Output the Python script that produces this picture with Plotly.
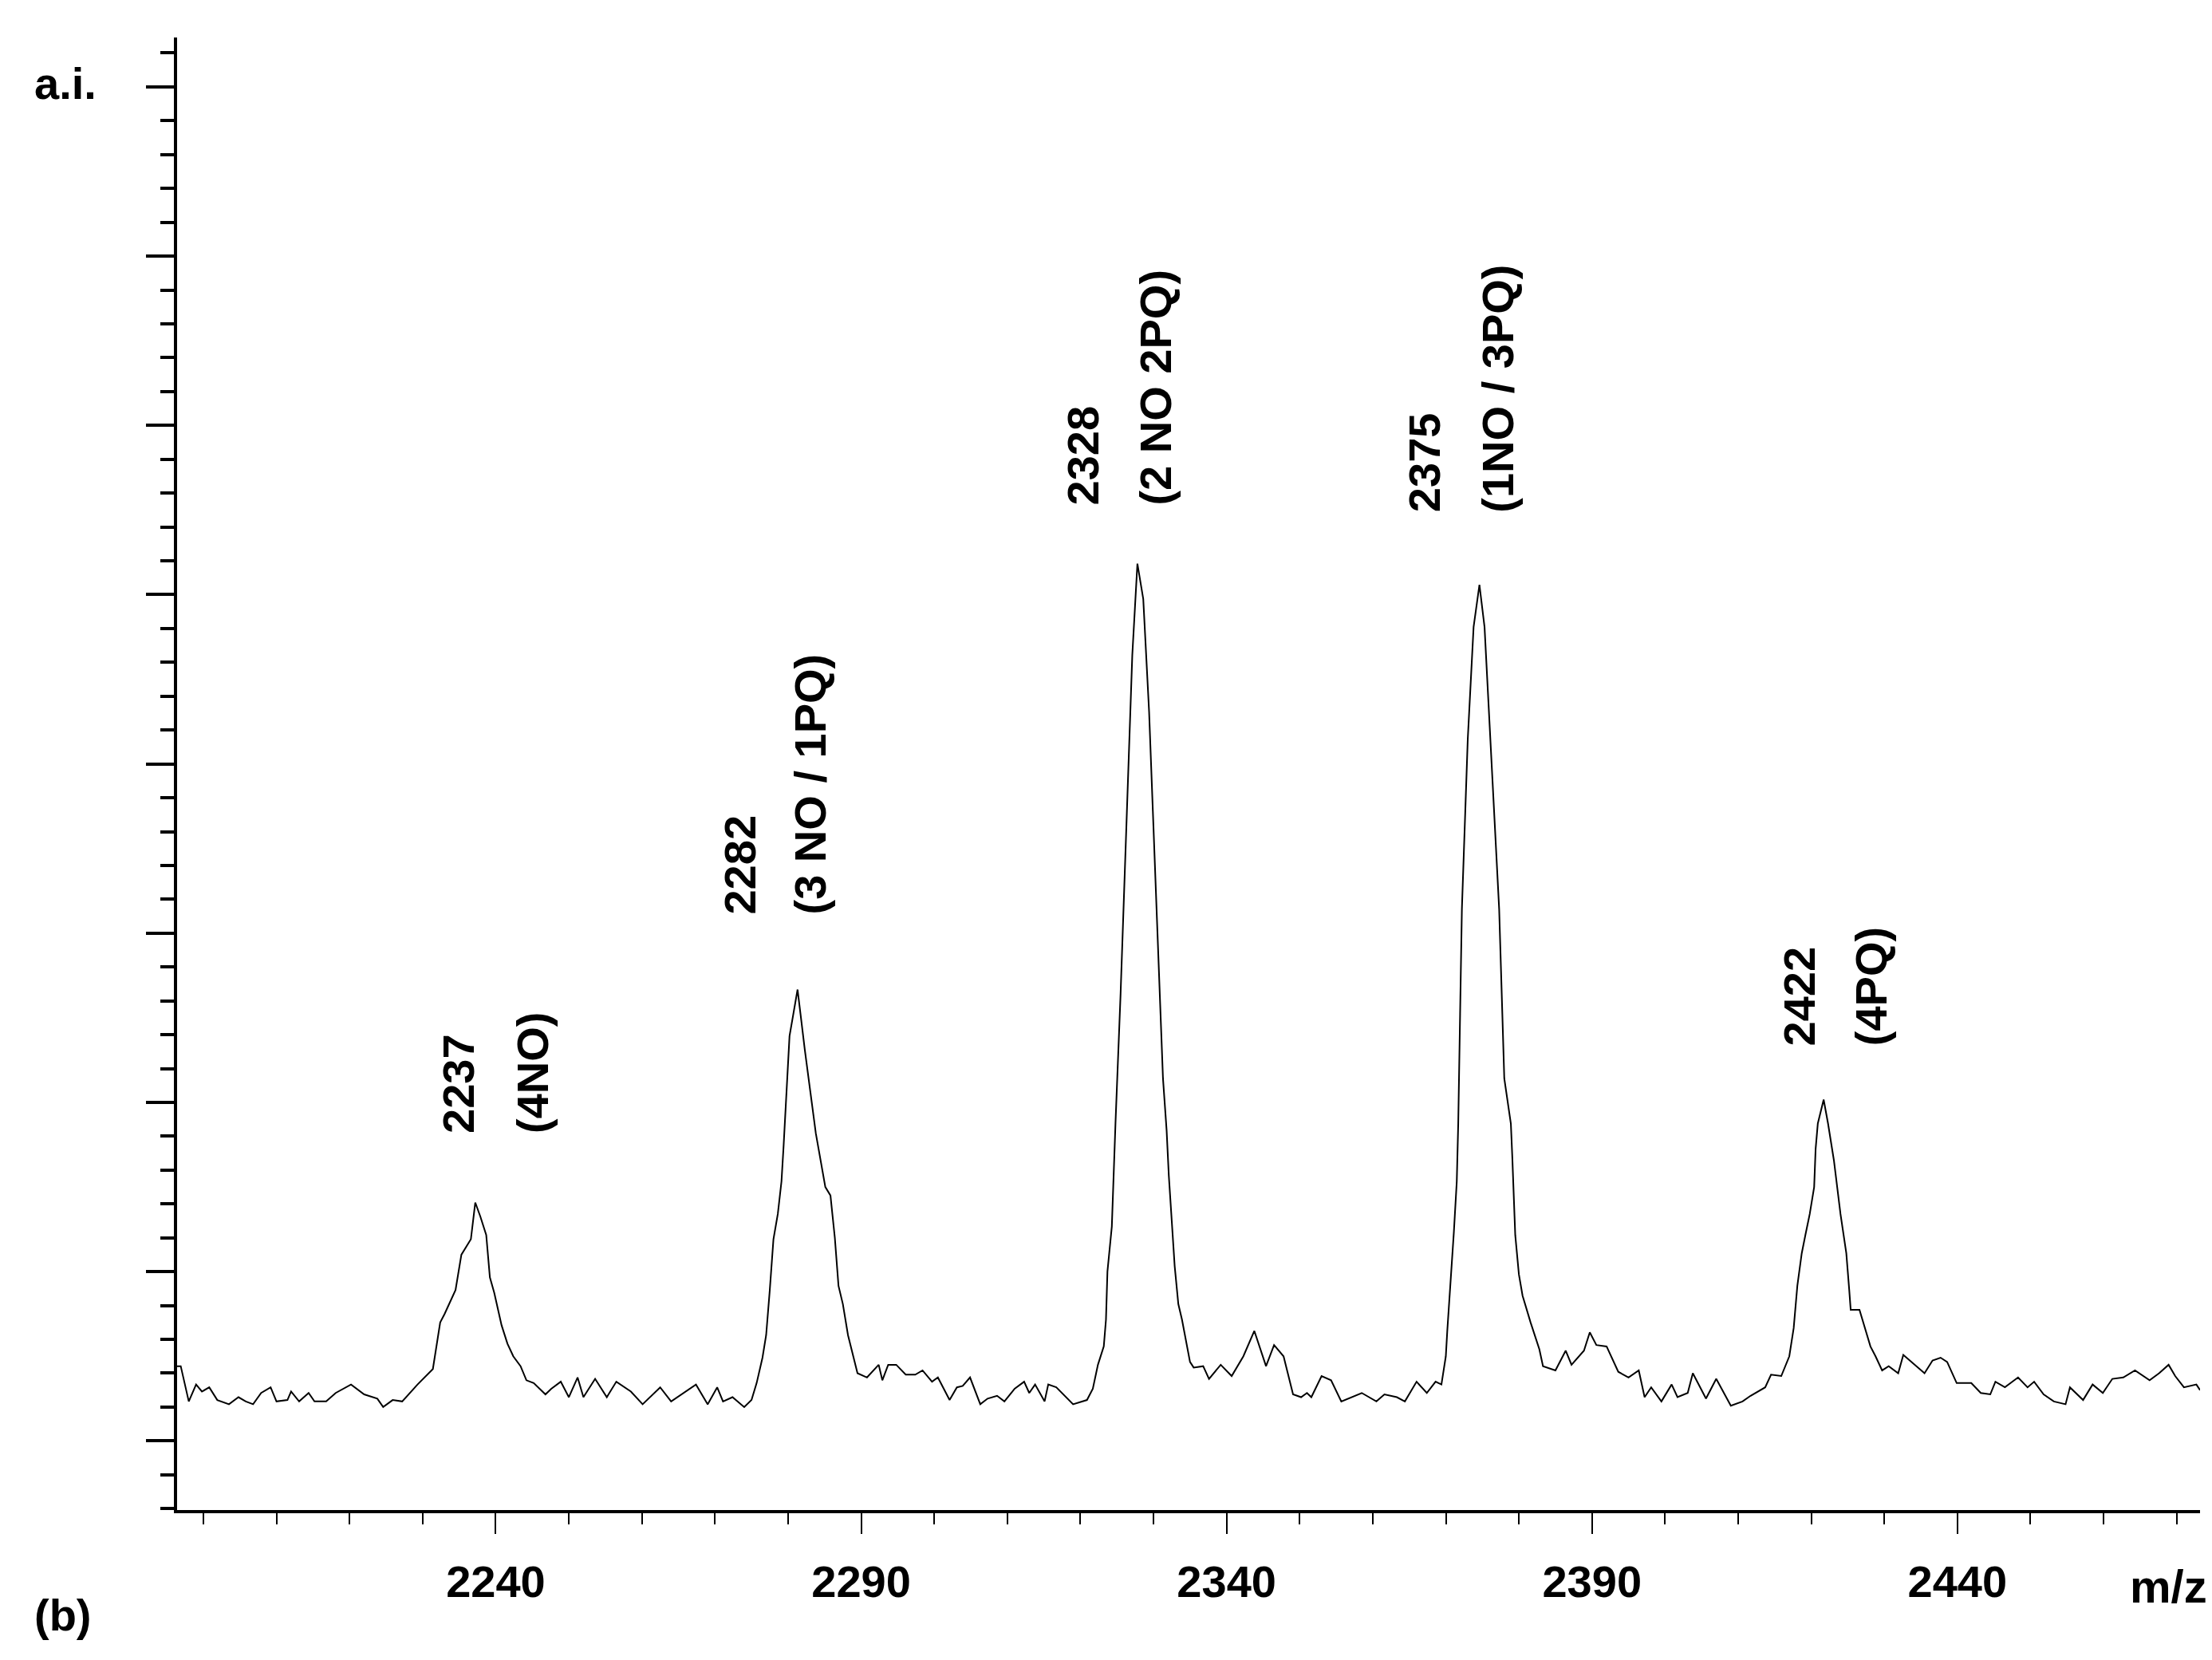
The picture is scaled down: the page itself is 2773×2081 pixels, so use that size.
import plotly.graph_objects as go

# spectrum (intensity in arbitrary units)
mz = [
    2196.3, 2196.9, 2198.0, 2199.0, 2199.8, 2200.8, 2201.9, 2203.5, 2204.8, 2205.8,
    2206.8, 2207.9, 2209.2, 2210.0, 2211.5, 2212.0, 2213.1, 2214.4, 2215.2, 2216.8,
    2218.1, 2220.2, 2222.0, 2223.8, 2224.6, 2225.9, 2227.2, 2229.3, 2231.4,
    2232.4, 2233.0, 2234.0, 2234.5, 2235.3, 2236.6, 2237.2, 2237.9, 2238.7, 2239.2,
    2239.8, 2240.8, 2241.6, 2242.4, 2243.4, 2244.2, 2245.2, 2246.8, 2247.6, 2248.9,
    2250.0, 2251.2, 2252.0, 2253.6, 2255.2, 2256.5, 2258.5, 2260.1, 2262.5, 2264.0,
    2267.4, 2269.0, 2270.3, 2271.1, 2272.4, 2274.0, 2275.0, 2275.7, 2276.5, 2277.0,
    2277.5, 2278.0, 2278.6, 2279.1, 2279.4, 2280.2, 2281.3, 2282.3, 2283.8, 2284.3,
    2285.1, 2285.8, 2286.4, 2286.9, 2287.5, 2288.2, 2289.0, 2289.5, 2290.8, 2292.4,
    2292.9, 2293.7, 2294.8, 2296.1, 2297.4, 2298.4, 2299.7, 2300.5, 2302.1, 2303.1,
    2303.9, 2304.9, 2306.3, 2307.3, 2308.6, 2309.6, 2311.0, 2312.3, 2313.0, 2313.8,
    2315.1, 2315.6, 2316.7, 2319.0, 2320.9, 2321.7, 2322.4, 2323.2, 2323.5, 2323.7,
    2324.3, 2324.5, 2324.8, 2325.5, 2326.3, 2327.1, 2327.8, 2328.6, 2329.4, 2330.3,
    2331.3, 2331.8, 2332.1, 2332.5, 2332.9, 2333.4, 2333.9, 2335.0, 2335.5, 2336.8,
    2337.6, 2339.2, 2340.7, 2342.3, 2343.8, 2345.4, 2346.5, 2347.8, 2349.1, 2350.2,
    2351.0, 2351.6, 2353.0, 2354.3, 2355.7, 2358.5, 2360.5, 2361.6, 2363.3, 2364.4,
    2366.0, 2367.4, 2368.6, 2369.4, 2370.0, 2370.2, 2370.5, 2370.8, 2371.1, 2371.5,
    2371.7, 2372.2, 2373.0, 2373.8, 2374.6, 2375.3, 2376.1, 2377.3, 2378.0, 2378.9,
    2379.1, 2379.5, 2380.0, 2380.5, 2381.6, 2382.8, 2383.3, 2385.0, 2386.4, 2387.2,
    2388.9, 2389.7, 2390.6, 2392.0, 2393.6, 2395.0, 2396.4, 2397.2, 2398.1, 2399.5,
    2400.9, 2401.7, 2403.1, 2403.8, 2405.6, 2407.0, 2409.0, 2410.6, 2411.7, 2413.7,
    2414.5, 2415.9, 2417.0, 2417.6, 2418.1, 2418.7, 2419.2, 2419.8, 2420.4, 2420.6,
    2420.9, 2421.7, 2422.3, 2423.1, 2424.0, 2424.8, 2425.2, 2425.4, 2426.6, 2427.5,
    2428.1, 2428.8, 2429.7, 2430.6, 2431.9, 2432.6, 2434.1, 2435.5, 2436.6, 2437.7,
    2438.6, 2439.9, 2441.9, 2443.2, 2444.5, 2445.2, 2446.5, 2448.3, 2449.6, 2450.5,
    2451.8, 2453.2, 2454.8, 2455.4, 2457.2, 2458.5, 2459.9, 2461.2, 2462.7, 2464.3,
    2466.3, 2467.6, 2468.9, 2469.8, 2471.0, 2472.7, 2473.2,
]
intensity = [
    53, 53, 28, 40, 35, 38, 29, 26, 31, 28,
    26, 34, 38, 28, 29, 35, 28, 34, 28, 28,
    34, 40, 33, 30, 24, 29, 28, 40, 51,
    84, 90, 101, 107, 132, 143, 169, 159, 146, 116,
    105, 82, 69, 60, 53, 43, 41, 33, 37, 42,
    31, 45, 31, 44, 31, 42, 35, 26, 38, 28,
    40, 26, 38, 28, 31, 24, 29, 41, 59, 75,
    107, 143, 161, 184, 210, 287, 320, 277, 218, 203,
    180, 174, 144, 110, 97, 75, 58, 48, 45, 54,
    43, 54, 54, 47, 47, 50, 42, 45, 29, 38,
    39, 45, 26, 30, 32, 28, 37, 42, 34, 40,
    28, 40, 38, 26, 29, 37, 54, 67, 86, 120,
    152, 186, 225, 317, 437, 557, 622, 597, 517, 397,
    257, 220, 188, 156, 124, 97, 86, 56, 52, 53,
    44, 54, 46, 60, 78, 53, 68, 60, 33, 31,
    34, 31, 46, 43, 28, 34, 28, 33, 31, 28,
    42, 34, 42, 40, 60, 78, 101, 126, 148, 184,
    225, 377, 497, 577, 607, 577, 497, 377, 257, 225,
    201, 146, 118, 103, 84, 65, 53, 50, 64, 54,
    64, 77, 68, 67, 49, 45, 50, 31, 38, 28,
    40, 31, 34, 48, 30, 44, 25, 28, 32, 38,
    47, 46, 60, 80, 110, 133, 146, 161, 180, 207,
    225, 242, 225, 199, 161, 133, 107, 93, 93, 77,
    67, 60, 50, 53, 48, 61, 54, 48, 57, 59,
    56, 41, 41, 34, 33, 42, 38, 45, 38, 42,
    33, 28, 26, 38, 29, 40, 34, 44, 45, 50,
    43, 48, 54, 46, 38, 40, 36,
]

# peak labels: two rotated lines each
label_lines = [
    ("2237", 2234.8, 217), ("(4NO)", 2245.0, 217),
    ("2282", 2273.4, 372), ("(3 NO / 1PQ)", 2283.0, 372),
    ("2328", 2320.3, 662), ("(2 NO 2PQ)", 2330.3, 662),
    ("2375", 2367.0, 657), ("(1NO / 3PQ)", 2377.1, 657),
    ("2422", 2418.4, 279), ("(4PQ)", 2428.2, 279),
]

x_ticks = [2240, 2290, 2340, 2390, 2440]

FONT = "Liberation Sans, Arial, sans-serif"

fig = go.Figure()
fig.add_trace(go.Scatter(x=mz, y=intensity, mode="lines",
                         line=dict(color="black", width=2), hoverinfo="skip"))

for text, lx, ly in label_lines:
    fig.add_annotation(x=lx, y=ly, xref="x", yref="y", text=f"<b>{text}</b>",
                       textangle=-90, showarrow=False, xanchor="center",
                       yanchor="bottom", font=dict(family=FONT, size=56, color="black"))

# corner texts
fig.add_annotation(x=-0.0552, y=0.9686, xref="paper", yref="paper", text="<b>a.i.</b>",
                   showarrow=False, xanchor="center", yanchor="middle",
                   font=dict(family=FONT, size=56, color="black"))
fig.add_annotation(x=-0.0564, y=-0.071, xref="paper", yref="paper", text="<b>(b)</b>",
                   showarrow=False, xanchor="center", yanchor="middle",
                   font=dict(family=FONT, size=56, color="black"))
fig.add_annotation(x=0.9846, y=-0.052, xref="paper", yref="paper", text="<b>m/z</b>",
                   showarrow=False, xanchor="center", yanchor="middle",
                   font=dict(family=FONT, size=58, color="black"))

fig.update_layout(
    width=2773, height=2081,
    margin=dict(l=214, r=23, t=39, b=196),
    paper_bgcolor="white", plot_bgcolor="white",
    showlegend=False,
)

fig.update_xaxes(
    range=[2196.4, 2473.2], showgrid=False, zeroline=False,
    showline=True, linecolor="black", linewidth=4,
    tickmode="array", tickvals=x_ticks, ticktext=[str(t) for t in x_ticks],
    ticks="outside", ticklen=26, tickwidth=2, tickcolor="black",
    minor=dict(dtick=10, tick0=2200, ticks="outside", ticklen=14,
               tickwidth=2, tickcolor="black"),
    ticklabelstandoff=12,
    tickfont=dict(family=FONT, size=56, color="black", weight="bold"),
)
fig.update_yaxes(
    range=[-49, 995], showgrid=False, zeroline=False,
    showline=True, linecolor="black", linewidth=4,
    tick0=0, dtick=120, ticks="outside", ticklen=35, tickwidth=4,
    tickcolor="black", showticklabels=False,
    minor=dict(dtick=24, ticks="outside", ticklen=17, tickwidth=4,
               tickcolor="black"),
)

fig.write_html("out.html")
